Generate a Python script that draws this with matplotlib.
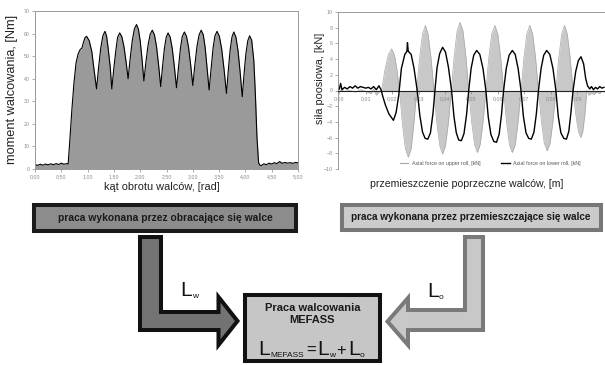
import matplotlib
matplotlib.use('Agg')
import matplotlib.pyplot as plt
from matplotlib.patches import Polygon, Rectangle
from matplotlib.lines import Line2D
from matplotlib.ticker import FuncFormatter, MultipleLocator, FixedLocator

plt.rcParams['font.family'] = ['Liberation Sans', 'DejaVu Sans']

# --- left chart: rolling moment vs roll rotation angle ---
angle = [0.00, 0.05, 0.10, 0.15, 0.20, 0.25, 0.30, 0.35, 0.40, 0.45, 0.50, 0.55, 0.60, 0.63,
         0.66, 0.70, 0.74, 0.78, 0.82, 0.86, 0.89, 0.92, 0.95, 0.98,
         1.03, 1.08, 1.12, 1.17, 1.21, 1.25, 1.29, 1.33,
         1.36, 1.39, 1.43, 1.46, 1.50, 1.54, 1.57, 1.61,
         1.65, 1.69, 1.73, 1.77, 1.81, 1.85, 1.89, 1.93,
         1.965, 2.00, 2.035, 2.07, 2.11, 2.15, 2.19, 2.23,
         2.27, 2.31, 2.35, 2.39, 2.425, 2.46, 2.495, 2.53,
         2.57, 2.61, 2.65, 2.69, 2.73, 2.765, 2.80, 2.84,
         2.88, 2.92, 2.96, 3.00, 3.04, 3.08, 3.12, 3.16,
         3.20, 3.235, 3.27, 3.31, 3.35, 3.385, 3.42, 3.46,
         3.505, 3.55, 3.595, 3.64, 3.675, 3.71, 3.745, 3.78,
         3.82, 3.86, 3.90, 3.94, 3.975, 4.01, 4.045, 4.08,
         4.12, 4.16, 4.19, 4.22, 4.25, 4.27,
         4.30, 4.35, 4.40, 4.45, 4.50, 4.55, 4.60, 4.65, 4.70, 4.75,
         4.80, 4.85, 4.90, 4.95, 5.00]
moment = [2.0, 1.6, 2.1, 1.7, 2.2, 1.8, 2.3, 1.9, 2.4, 2.0, 2.6, 2.1, 2.4, 2.2,
          12, 26, 38, 47, 51, 53, 53.5, 56, 58.2, 58.8,
          56.9, 52.0, 44.4, 35.5, 45.2, 53.6, 59.0, 61,
          59.0, 53.6, 45.2, 35.5, 44.9, 53.1, 58.3, 60.3,
          58.7, 54.4, 47.7, 40, 49.1, 57.0, 62.1, 64,
          62.0, 56.8, 48.5, 39, 47.6, 55.0, 59.7, 61.5,
          59.5, 54.3, 46.0, 36.5, 45.5, 53.4, 58.4, 60.3,
          58.4, 53.3, 45.2, 36, 45.4, 53.5, 58.7, 60.7,
          58.8, 53.8, 46.0, 37, 46.3, 54.4, 59.5, 61.5,
          59.4, 53.8, 45.1, 35, 44.9, 53.5, 58.9, 61,
          58.8, 53.0, 44.0, 33.5, 43.8, 52.8, 58.5, 60.7,
          58.4, 52.4, 42.9, 32, 42.3, 51.2, 56.8, 59,
          57, 48, 33, 14, 3, 1.8,
          1.5, 2.3, 1.9, 2.6, 2.2, 2.8, 2.4, 3.3, 2.5, 2.9,
          2.6, 2.8, 2.5, 2.9, 2.7]

# --- right chart: axial forces vs lateral roll shift ---
shift_upper = [0.000, 0.002, 0.004, 0.006, 0.008, 0.010, 0.012, 0.013, 0.014, 0.015, 0.016,
               0.0173, 0.0186, 0.0198, 0.0208, 0.0218, 0.0228,
               0.0239, 0.0250, 0.0261, 0.0272, 0.0282, 0.0293,
               0.0304, 0.0315, 0.0326, 0.0336, 0.0347, 0.0358,
               0.0369, 0.0380, 0.0391, 0.0402, 0.0413, 0.0424,
               0.0435, 0.0446, 0.0457, 0.0468, 0.0479, 0.0490,
               0.0501, 0.0512, 0.0523, 0.0533, 0.0544, 0.0555,
               0.0566, 0.0577, 0.0589, 0.0600, 0.0611, 0.0622,
               0.0633, 0.0644, 0.0655, 0.0666, 0.0677, 0.0688,
               0.0699, 0.0710, 0.0721, 0.0732, 0.0743, 0.0754,
               0.0765, 0.0776, 0.0787, 0.0798, 0.0809, 0.0820,
               0.0831, 0.0842, 0.0853, 0.0863, 0.0874, 0.0885,
               0.0895, 0.0905, 0.0915, 0.0922, 0.0930, 0.0937,
               0.0945, 0.0955, 0.0965, 0.0975, 0.0985, 0.0995, 0.1005]
force_upper = [0.1, -0.1, 0.0, -0.2, 0.1, -0.1, -0.4, 0.2, -0.6, -0.2, 0.0,
               2.7, 4.6, 5.3, 4.6, 2.7, 0.0,
               -4.3, -7.4, -8.5, -7.4, -4.3, 0.0,
               4.2, 7.2, 8.3, 7.2, 4.2, 0.0,
               -4.1, -7.0, -8.1, -7.0, -4.1, 0.0,
               4.4, 7.6, 8.7, 7.6, 4.4, 0.0,
               -4.0, -6.9, -7.9, -6.9, -4.0, 0.0,
               4.2, 7.2, 8.3, 7.2, 4.2, 0.0,
               -4.0, -6.9, -7.9, -6.9, -4.0, 0.0,
               4.2, 7.2, 8.3, 7.2, 4.2, 0.0,
               -3.9, -6.7, -7.7, -6.7, -3.9, 0.0,
               4.2, 7.2, 8.3, 7.2, 4.2, 0.0,
               -3.0, -5.2, -6.0, -5.2, -3.0, 0.0,
               -0.6, -0.3, -0.5, -0.2, -0.4, -0.1, -0.2]

shift_lower = [0.000, 0.0005, 0.001, 0.002, 0.003, 0.004, 0.005, 0.006, 0.007, 0.008, 0.009,
               0.010, 0.011, 0.012, 0.013, 0.014, 0.015, 0.0158,
               0.0165, 0.0175, 0.0188, 0.0205, 0.0215, 0.0225,
               0.0235, 0.0248, 0.0256, 0.0258, 0.0261, 0.0272, 0.0283, 0.0295,
               0.0305, 0.0315, 0.0325, 0.0335, 0.0345, 0.0355, 0.0362,
               0.0370, 0.0380, 0.0391, 0.0402, 0.0413, 0.0425,
               0.0434, 0.0443, 0.0452, 0.0462, 0.0472, 0.0482, 0.0490,
               0.0499, 0.0509, 0.0520, 0.0532, 0.0544, 0.0555,
               0.0564, 0.0574, 0.0585, 0.0595, 0.0605, 0.0614, 0.0622,
               0.0632, 0.0643, 0.0655, 0.0666, 0.0677, 0.0688,
               0.0697, 0.0707, 0.0717, 0.0727, 0.0737, 0.0746, 0.0754,
               0.0764, 0.0774, 0.0785, 0.0797, 0.0809, 0.0820,
               0.0829, 0.0839, 0.0850, 0.0860, 0.0869, 0.0877, 0.0885,
               0.0895, 0.0905, 0.0915, 0.0925, 0.0933, 0.0940,
               0.0948, 0.0955, 0.0962, 0.0970, 0.0978, 0.0986, 0.0994, 0.1002]
force_lower = [0.2, 0.9, 0.1, 0.4, 0.2, 0.5, 0.3, 0.6, 0.3, 0.5, 0.4,
               0.3, 0.4, 0.2, 0.5, 0.1, 0.6, 0.1,
               -0.8, -1.9, -3.0, -3.8, -2.8, -0.6,
               2.8, 4.6, 5.0, 6.1, 5.0, 4.6, 2.8, 0.0,
               -3.2, -5.3, -6.1, -6.2, -5.4, -2.8, 0.0,
               2.9, 4.7, 5.5, 4.9, 3.0, 0.0,
               -3.3, -5.4, -6.3, -6.4, -5.5, -3.0, 0.0,
               2.8, 4.5, 5.1, 4.6, 2.8, 0.0,
               -3.4, -5.6, -6.5, -6.6, -5.6, -3.1, 0.0,
               2.8, 4.5, 5.1, 4.6, 2.8, 0.0,
               -3.3, -5.4, -6.1, -6.2, -5.3, -3.0, 0.0,
               2.8, 4.5, 5.1, 4.6, 2.8, 0.0,
               -3.3, -5.4, -6.1, -6.2, -5.2, -2.8, 0.0,
               2.4, 3.8, 4.3, 3.4, 1.5, 0.6,
               0.2, 0.5, 0.1, 0.4, 0.2, 0.5, 0.3, 0.4]

box_left_text = 'praca wykonana przez obracające się walce'
box_right_text = 'praca wykonana przez przemieszczające się walce'
legend_labels = ['Axial force on upper roll, [kN]', 'Axial force on lower roll, [kN]']

W, H = 605, 365
fig = plt.figure(figsize=(W / 100, H / 100), dpi=100)


def px_axes(x0, y0, x1, y1):
    # pixel box (y from top) -> figure fraction
    return [x0 / W, (H - y1) / H, (x1 - x0) / W, (y1 - y0) / H]


comma = FuncFormatter(lambda v, p: f'{v:.2f}'.replace('.', ','))
tick_col = '#8a8a8a'

# overlay for the diagram and free text, in pixel coords
ad = fig.add_axes([0, 0, 1, 1], zorder=0)
ad.set_xlim(0, W)
ad.set_ylim(H, 0)
ad.axis('off')

# left chart
a1 = fig.add_axes(px_axes(35, 11, 298, 169), zorder=1)
a1.fill_between(angle, 0, moment, color='#9a9a9a', lw=0)
a1.plot(angle, moment, color='black', lw=0.8)
a1.set_xlim(0, 5)
a1.set_ylim(0, 70)
a1.xaxis.set_major_locator(MultipleLocator(0.5))
a1.yaxis.set_major_locator(MultipleLocator(10))
a1.xaxis.set_major_formatter(comma)
for s in a1.spines.values():
    s.set_color('#9a9a9a')
    s.set_linewidth(0.7)
a1.tick_params(labelsize=3.8, colors=tick_col, length=2, width=0.5, pad=2)

# right chart
a2 = fig.add_axes(px_axes(338, 12, 605, 169), zorder=1)
a2.fill_between(shift_upper, 0, force_upper, color='#c8c8c8', lw=0)
a2.plot(shift_upper, force_upper, color='#a8a8a8', lw=0.5)
a2.plot(shift_lower, force_lower, color='black', lw=1.0, zorder=3)
a2.set_xlim(-0.0005, 0.1006)
a2.set_ylim(-10, 10)
a2.xaxis.set_major_locator(FixedLocator([i / 100 for i in range(10)]))
a2.yaxis.set_major_locator(MultipleLocator(2))
a2.xaxis.set_major_formatter(comma)
a2.spines['bottom'].set_position(('data', 0))
a2.spines['bottom'].set_color('#222222')
a2.spines['bottom'].set_linewidth(0.8)
a2.spines['right'].set_visible(False)
a2.spines['left'].set_color('#9a9a9a')
a2.spines['top'].set_color('#9a9a9a')
a2.spines['left'].set_linewidth(0.7)
a2.spines['top'].set_linewidth(0.7)
a2.tick_params(labelsize=3.8, colors=tick_col, length=2, width=0.5, pad=2)
handles = [Line2D([], [], color='#a8a8a8', lw=0.8), Line2D([], [], color='black', lw=1.0)]
a2.legend(handles, legend_labels, ncol=2, frameon=False, fontsize=3.8,
          loc='center', bbox_to_anchor=(0.57, 0.035), handlelength=1.6,
          columnspacing=4.0, handletextpad=0.6, labelcolor='#555555')

# axis titles
ad.text(12, 89, 'moment walcowania, [Nm]', rotation=90, ha='center', va='center',
        fontsize=9.2, color='#222222')
ad.text(162, 187, 'kąt obrotu walców, [rad]', ha='center', va='center',
        fontsize=7.9, color='#222222')
ad.text(320, 78, 'siła poosiowa, [kN]', rotation=90, ha='center', va='center',
        fontsize=7.8, color='#222222')
ad.text(467, 184, 'przemieszczenie poprzeczne walców, [m]', ha='center', va='center',
        fontsize=7.6, color='#222222')

# boxes
bw = 2.9
ad.add_patch(Rectangle((34, 205), 262, 26, facecolor='#8c8c8c', edgecolor='#1a1a1a',
                       lw=bw, joinstyle='miter'))
ad.add_patch(Rectangle((342, 205), 258.5, 25, facecolor='#cbcbcb', edgecolor='#777777',
                       lw=bw, joinstyle='miter'))
ad.add_patch(Rectangle((245, 295), 135, 66, facecolor='#c6c6c6', edgecolor='#111111',
                       lw=bw, joinstyle='miter'))
ad.text(165, 218, box_left_text, ha='center', va='center', fontsize=7.4,
        fontweight='bold', color='#1a1a1a')
ad.text(471, 217.5, box_right_text, ha='center', va='center', fontsize=7.2,
        fontweight='bold', color='#1a1a1a')

# arrows
left_arrow = [(140, 237), (161, 237), (161, 312), (218.5, 312), (218.5, 297),
              (237.5, 321), (218.5, 345), (218.5, 330), (140, 330)]
right_arrow = [(465, 237), (483, 237), (483, 330), (408, 330), (408, 345),
               (387.5, 321.5), (408, 298), (408, 310), (465, 310)]
ad.add_patch(Polygon(left_arrow, closed=True, facecolor='#737373', edgecolor='#111111',
                     lw=bw, joinstyle='miter'))
ad.add_patch(Polygon(right_arrow, closed=True, facecolor='#c8c8c8', edgecolor='#7a7a7a',
                     lw=bw, joinstyle='miter'))

# L labels
big = 15
sub = 6
ink = '#111111'
ad.text(180, 296, 'L', fontsize=big, ha='left', va='baseline', color=ink)
ad.text(192, 298, 'w', fontsize=sub, ha='left', va='baseline', color=ink)
ad.text(427, 297, 'L', fontsize=big, ha='left', va='baseline', color=ink)
ad.text(439, 299, 'o', fontsize=sub, ha='left', va='baseline', color=ink)

# center box text
ad.text(312.5, 308, 'Praca walcowania', ha='center', va='center', fontsize=8,
        fontweight='bold', color='#1a1a1a')
ad.text(312.5, 320, 'MEFASS', ha='center', va='center', fontsize=8,
        fontweight='bold', color='#1a1a1a')
ad.text(258, 355, 'L', fontsize=big, ha='left', va='baseline', color=ink)
ad.text(270, 357, 'MEFASS', fontsize=sub, ha='left', va='baseline', color=ink)
ad.text(306.5, 355, '=', fontsize=12, ha='left', va='baseline', color=ink)
ad.text(317, 355, 'L', fontsize=big, ha='left', va='baseline', color=ink)
ad.text(329, 357, 'w', fontsize=sub, ha='left', va='baseline', color=ink)
ad.text(336.5, 355, '+', fontsize=12, ha='left', va='baseline', color=ink)
ad.text(348, 355, 'L', fontsize=big, ha='left', va='baseline', color=ink)
ad.text(360, 357, 'o', fontsize=sub, ha='left', va='baseline', color=ink)

fig.savefig('out.png', dpi=100, facecolor='white')
